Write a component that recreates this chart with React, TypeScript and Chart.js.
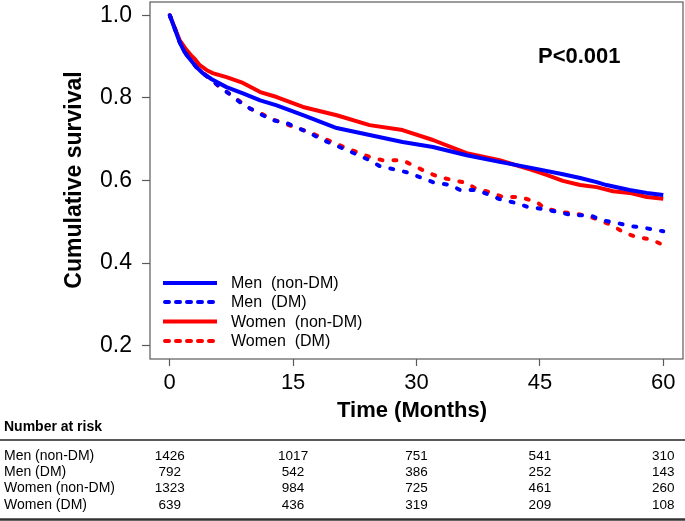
import React, { useEffect, useRef } from "react";
import { Chart, registerables } from "chart.js";

Chart.register(...registerables);

// ---- Survival curves (month, cumulative survival) ----
const menNonDmMonths = [0, 0.6, 1.2, 1.8, 2.4, 3.2, 4.0, 5.1, 6.9, 8.9, 11.0, 13.0, 16.2, 20.3, 24.3, 28.3, 32.0, 36.1, 40.1, 44.1, 47.8, 49.9, 51.9, 53.1, 55.9, 58.0, 60.0];
const menNonDmSurv = [1.0, 0.968, 0.935, 0.911, 0.895, 0.875, 0.86, 0.845, 0.826, 0.811, 0.794, 0.782, 0.758, 0.727, 0.71, 0.693, 0.681, 0.661, 0.645, 0.63, 0.615, 0.606, 0.596, 0.589, 0.577, 0.57, 0.565];

const menDmMonths = [0, 0.6, 1.2, 1.8, 2.4, 3.2, 4.0, 5.1, 6.1, 7.3, 8.5, 9.7, 11.0, 12.5, 14.2, 17.0, 18.6, 21.5, 24.3, 25.5, 28.8, 30.4, 32.0, 34.1, 35.3, 37.3, 38.9, 40.1, 42.2, 43.5, 45.4, 47.1, 49.0, 51.1, 52.5, 54.4, 55.9, 57.8, 60.0];
const menDmSurv = [1.0, 0.968, 0.935, 0.911, 0.895, 0.875, 0.86, 0.843, 0.826, 0.809, 0.79, 0.775, 0.761, 0.746, 0.739, 0.715, 0.698, 0.674, 0.649, 0.635, 0.62, 0.608, 0.596, 0.589, 0.577, 0.577, 0.565, 0.555, 0.545, 0.536, 0.531, 0.524, 0.516, 0.516, 0.504, 0.497, 0.49, 0.485, 0.477];

const womenNonDmMonths = [0, 0.6, 1.2, 2.0, 2.6, 3.0, 3.65, 4.5, 5.2, 6.9, 8.9, 11.0, 13.0, 16.2, 20.3, 24.3, 28.3, 32.0, 36.1, 40.1, 44.1, 45.9, 47.8, 49.9, 51.9, 53.9, 55.9, 58.0, 60.0];
const womenNonDmSurv = [1.0, 0.97, 0.94, 0.917, 0.903, 0.895, 0.879, 0.867, 0.86, 0.85, 0.836, 0.814, 0.802, 0.778, 0.758, 0.734, 0.722, 0.698, 0.666, 0.649, 0.625, 0.613, 0.599, 0.589, 0.584, 0.574, 0.57, 0.56, 0.556];

const womenDmMonths = [0, 0.6, 1.2, 1.8, 2.4, 3.2, 4.0, 5.1, 6.1, 7.3, 8.5, 9.7, 11.0, 12.5, 14.2, 17.0, 18.6, 21.5, 24.3, 25.9, 28.3, 31.3, 32.8, 34.4, 36.1, 37.3, 38.9, 40.5, 42.6, 44.6, 45.6, 47.4, 49.0, 50.8, 52.3, 53.9, 55.3, 56.8, 58.4, 60.0];
const womenDmSurv = [1.0, 0.97, 0.937, 0.912, 0.896, 0.876, 0.861, 0.843, 0.826, 0.809, 0.792, 0.775, 0.763, 0.748, 0.736, 0.717, 0.703, 0.678, 0.657, 0.649, 0.649, 0.62, 0.608, 0.601, 0.594, 0.579, 0.572, 0.56, 0.56, 0.548, 0.533, 0.524, 0.521, 0.514, 0.504, 0.49, 0.473, 0.463, 0.458, 0.444];

// ---- Axis ticks ----
const xTicks = [0, 15, 30, 45, 60];
const yTicks = [0.2, 0.4, 0.6, 0.8, 1.0];

// ---- Legend / series labels ----
const legendLabels = ["Men  (non-DM)", "Men  (DM)", "Women  (non-DM)", "Women  (DM)"];
const tableLabels = ["Men (non-DM)", "Men (DM)", "Women (non-DM)", "Women (DM)"];

// ---- Number at risk ----
const riskMenNonDm = [1426, 1017, 751, 541, 310];
const riskMenDm = [792, 542, 386, 252, 143];
const riskWomenNonDm = [1323, 984, 725, 461, 260];
const riskWomenDm = [639, 436, 319, 209, 108];

const pValueText = "P<0.001";
const xTitle = "Time (Months)";
const yTitle = "Cumulative survival";
const tableTitle = "Number at risk";

const FONT = "'Liberation Sans', Arial, Helvetica, sans-serif";
const BLUE = "#0000FF";
const RED = "#FF0000";
const AXIS_GRAY = "#5a5a5a";

const toXY = (xs: number[], ys: number[]) => xs.map((x, i) => ({ x, y: ys[i] }));

export default function App() {
  const canvasRef = useRef<HTMLCanvasElement | null>(null);

  useEffect(() => {
    document.body.style.margin = "0";
    const canvas = canvasRef.current;
    if (!canvas) return;

    const colors = [BLUE, BLUE, RED, RED];
    const dashed = [false, true, false, true];
    const riskRows = [riskMenNonDm, riskMenDm, riskWomenNonDm, riskWomenDm];

    const overlay = {
      id: "overlay",
      afterDraw(chart: any) {
        const ctx = chart.ctx as CanvasRenderingContext2D;
        const a = chart.chartArea;
        const xs = chart.scales.x;
        ctx.save();
        // plot box
        ctx.strokeStyle = AXIS_GRAY;
        ctx.lineWidth = 1.2;
        ctx.strokeRect(a.left, a.top, a.right - a.left, a.bottom - a.top);

        // P value
        ctx.fillStyle = "#000";
        ctx.font = `bold 22px ${FONT}`;
        ctx.textAlign = "left";
        ctx.textBaseline = "middle";
        ctx.fillText(pValueText, 538, 57);

        // Y title
        ctx.save();
        ctx.translate(75, 180);
        ctx.rotate(-Math.PI / 2);
        ctx.font = `bold 23px ${FONT}`;
        ctx.textAlign = "center";
        ctx.textBaseline = "middle";
        ctx.fillText(yTitle, 0, 0);
        ctx.restore();

        // X title
        ctx.font = `bold 22px ${FONT}`;
        ctx.textAlign = "center";
        ctx.textBaseline = "middle";
        ctx.fillText(xTitle, 412, 411);

        // Legend
        const legY = [283, 302, 321.5, 341];
        for (let i = 0; i < 4; i++) {
          ctx.save();
          ctx.strokeStyle = colors[i];
          ctx.lineWidth = 4;
          if (dashed[i]) {
            ctx.lineCap = "round";
            ctx.setLineDash([4, 7]);
            ctx.beginPath();
            ctx.moveTo(165, legY[i]);
            ctx.lineTo(217, legY[i]);
            ctx.stroke();
          } else {
            ctx.lineCap = "butt";
            ctx.beginPath();
            ctx.moveTo(163, legY[i]);
            ctx.lineTo(217, legY[i]);
            ctx.stroke();
          }
          ctx.restore();
          ctx.fillStyle = "#000";
          ctx.font = `16px ${FONT}`;
          ctx.textAlign = "left";
          ctx.textBaseline = "middle";
          ctx.fillText(legendLabels[i], 231, legY[i] + 1);
        }

        // Number at risk table
        ctx.fillStyle = "#000";
        ctx.font = `bold 14px ${FONT}`;
        ctx.textAlign = "left";
        ctx.textBaseline = "middle";
        ctx.fillText(tableTitle, 4, 427);

        ctx.strokeStyle = "#222";
        ctx.lineWidth = 1.5;
        ctx.beginPath();
        ctx.moveTo(0, 440);
        ctx.lineTo(685, 440);
        ctx.stroke();

        const rowY = [456, 472, 488.5, 505];
        for (let r = 0; r < 4; r++) {
          ctx.font = `14px ${FONT}`;
          ctx.textAlign = "left";
          ctx.fillText(tableLabels[r], 4, rowY[r]);
          ctx.textAlign = "center";
          ctx.font = `13.5px ${FONT}`;
          for (let c = 0; c < xTicks.length; c++) {
            const px = xs.getPixelForValue(xTicks[c]);
            ctx.fillText(String(riskRows[r][c]), px, rowY[r]);
          }
        }
        ctx.strokeStyle = "#333";
        ctx.lineWidth = 2.5;
        ctx.beginPath();
        ctx.moveTo(0, 519.5);
        ctx.lineTo(685, 519.5);
        ctx.stroke();
        ctx.restore();
      },
    };

    const chart = new Chart(canvas, {
      type: "line",
      data: {
        datasets: [
          { label: legendLabels[0], data: toXY(menNonDmMonths, menNonDmSurv), borderColor: BLUE, borderWidth: 4 },
          { label: legendLabels[1], data: toXY(menDmMonths, menDmSurv), borderColor: BLUE, borderWidth: 4, borderDash: [3, 11], borderCapStyle: "round" },
          { label: legendLabels[2], data: toXY(womenNonDmMonths, womenNonDmSurv), borderColor: RED, borderWidth: 4 },
          { label: legendLabels[3], data: toXY(womenDmMonths, womenDmSurv), borderColor: RED, borderWidth: 4, borderDash: [3, 11], borderCapStyle: "round" },
        ] as any,
      },
      options: {
        responsive: false,
        animation: false,
        devicePixelRatio: window.devicePixelRatio || 1,
        layout: { padding: { top: 2, right: 2, left: 0, bottom: 0 } },
        elements: { point: { radius: 0 }, line: { tension: 0, borderJoinStyle: "round" } },
        plugins: { legend: { display: false }, tooltip: { enabled: false }, title: { display: false } },
        scales: {
          x: {
            type: "linear",
            min: -2.4,
            max: 62.4,
            afterFit: (s: any) => { s.height = 162; s.paddingLeft = 0; s.paddingRight = 0; },
            afterBuildTicks: (s: any) => { s.ticks = xTicks.map((v) => ({ value: v })); },
            grid: { drawOnChartArea: false, drawTicks: true, tickLength: 7, color: AXIS_GRAY, tickWidth: 1.2 },
            border: { display: false },
            ticks: { color: "#000", font: { family: FONT, size: 22 }, padding: 4, maxRotation: 0, autoSkip: false },
          },
          y: {
            type: "linear",
            min: 0.168,
            max: 1.032,
            afterFit: (s: any) => { s.width = 150; s.paddingTop = 0; s.paddingBottom = 0; },
            afterBuildTicks: (s: any) => { s.ticks = yTicks.map((v) => ({ value: v })); },
            grid: { drawOnChartArea: false, drawTicks: true, tickLength: 8, color: AXIS_GRAY, tickWidth: 1.2 },
            border: { display: false },
            ticks: { color: "#000", font: { family: FONT, size: 23 }, padding: 10, callback: (v: any) => Number(v).toFixed(1) },
          },
        },
      } as any,
      plugins: [overlay],
    });

    return () => chart.destroy();
  }, []);

  return (
    <div style={{ width: 685, height: 521, background: "#fff" }}>
      <canvas ref={canvasRef} width={685} height={521} style={{ display: "block", width: 685, height: 521 }} />
    </div>
  );
}
